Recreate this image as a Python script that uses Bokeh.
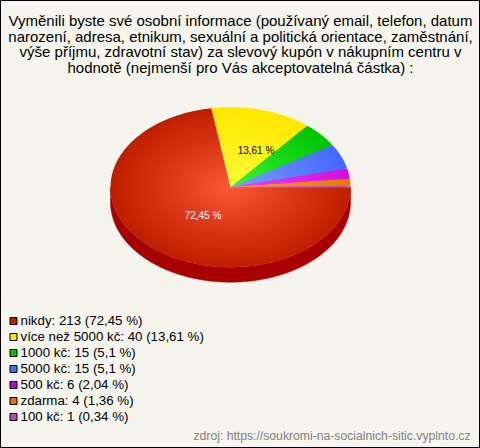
import numpy as np
from bokeh.plotting import figure
from bokeh.models import Range1d
from bokeh.core.properties import value
from bokeh.embed import file_html
from bokeh.resources import INLINE

title_lines = [
    "Vyměnili byste své osobní informace (používaný email, telefon, datum",
    "narození, adresa, etnikum, sexuální a politická orientace, zaměstnání,",
    "výše příjmu, zdravotní stav) za slevový kupón v nákupním centru v",
    "hodnotě (nejmenší pro Vás akceptovatelná částka) :",
]
categories = ["nikdy", "více než 5000 kč", "1000 kč", "5000 kč", "500 kč", "zdarma", "100 kč"]
counts = [213, 40, 15, 15, 6, 4, 1]
percents = ["72,45", "13,61", "5,1", "5,1", "2,04", "1,36", "0,34"]
edge_colors = ["#C02000", "#FFE600", "#00C400", "#4468FF", "#D010E0", "#E87800", "#B858B0"]
center_colors = ["#FF5C3C", "#FFFF3C", "#3CFF3C", "#80A8FF", "#FF40FF", "#FFA040", "#E080D8"]
legend_colors = ["#C42000", "#FFE800", "#00C000", "#4070FF", "#C000D8", "#E07000", "#B050B0"]
source_text = "zdroj: https://soukromi-na-socialnich-sitic.vyplnto.cz"

BG = "#F5F5ED"
CX, CY, RX, RY, DEPTH = 230.0, 186.7, 120.0, 80.0, 15.0
LEVELS = 36

p = figure(width=480, height=448, x_range=Range1d(0, 480), y_range=Range1d(448, 0),
           output_backend="svg", toolbar_location=None, min_border=0,
           background_fill_color=BG, border_fill_color=BG,
           outline_line_color="#000000", outline_line_width=1)
p.xaxis.visible = False
p.yaxis.visible = False
p.xgrid.visible = False
p.ygrid.visible = False


def rgb(h):
    return np.array([int(h[i:i + 2], 16) for i in (1, 3, 5)], float)


def mix(a, b, t):
    c = rgb(a) * (1 - t) + rgb(b) * t
    return "#%02x%02x%02x" % tuple(int(round(v)) for v in c)


fractions = np.array(counts, float) / sum(counts)
ends = np.cumsum(fractions) * 2 * np.pi
starts = np.concatenate([[0.0], ends[:-1]])

# side wall (front half only)
t = np.linspace(0, np.pi, 181)
sx = CX + RX * np.cos(t)
sy = CY + RY * np.sin(t)
p.patch(np.concatenate([sx, sx[::-1]]), np.concatenate([sy, sy[::-1] + DEPTH]),
        fill_color="#A80000", line_color="#A80000", line_width=0.5)

# top face: nested wedges emulate the radial gradient
xs, ys, fills = [], [], []
for lev in range(LEVELS):
    k = 1 - lev / LEVELS
    for a, b, ec, cc in zip(starts, ends, edge_colors, center_colors):
        n = max(3, int((b - a) * 60))
        th = np.linspace(a, b, n)
        xs.append(np.concatenate([[CX], CX + RX * k * np.cos(th)]))
        ys.append(np.concatenate([[CY], CY + RY * k * np.sin(th)]))
        fills.append(mix(cc, ec, k ** 0.85))
p.patches(xs, ys, fill_color=fills, line_color=None)

# in-pie labels
p.text([202.5], [215], text=[percents[0] + " %"], text_color="#FFFFFF", text_font=value("Liberation Sans"),
       text_font_size="10px", text_align="center", text_baseline="middle")
p.text([255.5], [150], text=[percents[1] + " %"], text_color="#000000", text_font=value("Liberation Sans"),
       text_font_size="10px", text_align="center", text_baseline="middle")

# title
p.text([240] * len(title_lines), [20 + 15.67 * i for i in range(len(title_lines))], text=title_lines,
       text_color="#000000", text_font=value("Liberation Sans"), text_font_size="15px",
       text_align="center", text_baseline="middle")

# legend
rows = [320 + 16 * i for i in range(len(categories))]
labels = [f"{c}: {n} ({q} %)" for c, n, q in zip(categories, counts, percents)]
p.rect([13] * len(rows), [r + 0.5 for r in rows], width=7, height=7, fill_color=legend_colors,
       line_color="#000000", line_width=1)
p.text([20] * len(rows), rows, text=labels, text_color="#000000", text_font=value("Liberation Sans"),
       text_font_size="13.3px", text_align="left", text_baseline="middle")

p.text([470], [435.5], text=[source_text], text_color="#808080", text_font=value("Liberation Sans"),
       text_font_size="12.2px", text_align="right", text_baseline="middle")

open("out.html", "w").write(file_html(p, INLINE))
